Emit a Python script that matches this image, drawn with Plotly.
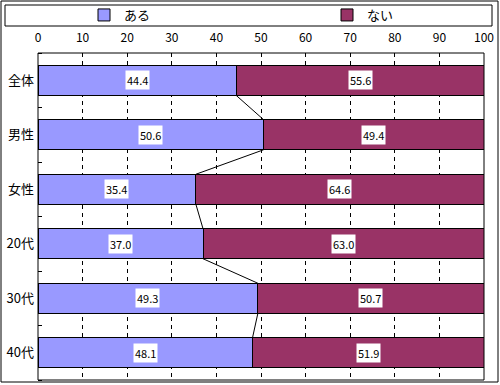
import plotly.graph_objects as go

categories = ["全体", "男性", "女性", "20代", "30代", "40代"]
aru = [44.4, 50.6, 35.4, 37.0, 49.3, 48.1]
nai = [55.6, 49.4, 64.6, 63.0, 50.7, 51.9]
series_names = ["ある", "ない"]
colors = ["#9999FF", "#993366"]
x_ticks = list(range(0, 101, 10))

BAR_W = 0.55
ypos = list(range(len(categories)))

fig = go.Figure()
fig.add_trace(go.Bar(y=ypos, x=aru, orientation="h", name=series_names[0],
                     marker=dict(color=colors[0], line=dict(color="black", width=1)),
                     width=BAR_W, legend="legend"))
fig.add_trace(go.Bar(y=ypos, x=nai, orientation="h", name=series_names[1],
                     marker=dict(color=colors[1], line=dict(color="black", width=1)),
                     width=BAR_W, legend="legend2"))

# series connector lines
lx, ly = [], []
for i in range(len(categories) - 1):
    lx += [aru[i], aru[i + 1], None]
    ly += [i + BAR_W / 2, i + 1 - BAR_W / 2, None]
fig.add_trace(go.Scatter(x=lx, y=ly, mode="lines", line=dict(color="black", width=1),
                         showlegend=False, hoverinfo="skip"))

annotations = []
for i in range(len(categories)):
    for xv, val in [(aru[i] / 2, aru[i]), (aru[i] + nai[i] / 2, nai[i])]:
        annotations.append(dict(x=xv, y=i, xref="x", yref="y", text=f"{val:.1f}",
                                showarrow=False, bgcolor="white",
                                font=dict(size=11, color="black"), borderpad=1))

def px(p):
    return (p - 38) / 446

def py(p):
    return (380 - p) / 327

shapes = [
    dict(type="rect", xref="paper", yref="paper", x0=px(1), x1=px(498), y0=py(382), y1=py(1),
         line=dict(color="black", width=1)),
    dict(type="rect", xref="paper", yref="paper", x0=px(5), x1=px(492), y0=py(26), y1=py(5),
         line=dict(color="black", width=1)),
    dict(type="rect", xref="paper", yref="paper", x0=0, x1=1, y0=0, y1=1,
         line=dict(color="black", width=1)),
]

leg_common = dict(orientation="h", xanchor="left", yanchor="middle",
                  bgcolor="rgba(0,0,0,0)", font=dict(size=13))

fig.update_layout(
    width=500, height=385,
    margin=dict(l=38, r=16, t=53, b=5, autoexpand=False),
    barmode="stack",
    paper_bgcolor="white", plot_bgcolor="white",
    font=dict(family="Noto Sans CJK JP", size=12, color="black"),
    showlegend=True,
    legend=dict(x=px(84), y=py(15), **leg_common),
    legend2=dict(x=px(327), y=py(15), **leg_common),
    annotations=annotations,
    shapes=shapes,
    bargap=0.45,
)
fig.update_xaxes(range=[0, 100], side="top", tickvals=x_ticks, showgrid=True,
                 gridcolor="black", griddash="4px,4px", gridwidth=1, zeroline=False,
                 ticks="", showline=False, tickfont=dict(size=12), automargin=False,
                 ticklabelstandoff=8)
fig.update_yaxes(range=[len(categories) - 0.5, -0.5], tickvals=ypos, ticktext=categories,
                 showgrid=False, zeroline=False, ticks="", showline=False,
                 tickfont=dict(size=13), automargin=False, ticklabelstandoff=3,
                 minor=dict(tick0=0.5, dtick=1, ticks="inside", ticklen=4, tickcolor="black",
                            showgrid=False))

fig.write_html("out.html", config={"displayModeBar": False},
               post_script="document.body.style.margin='0';document.body.style.padding='0';")
